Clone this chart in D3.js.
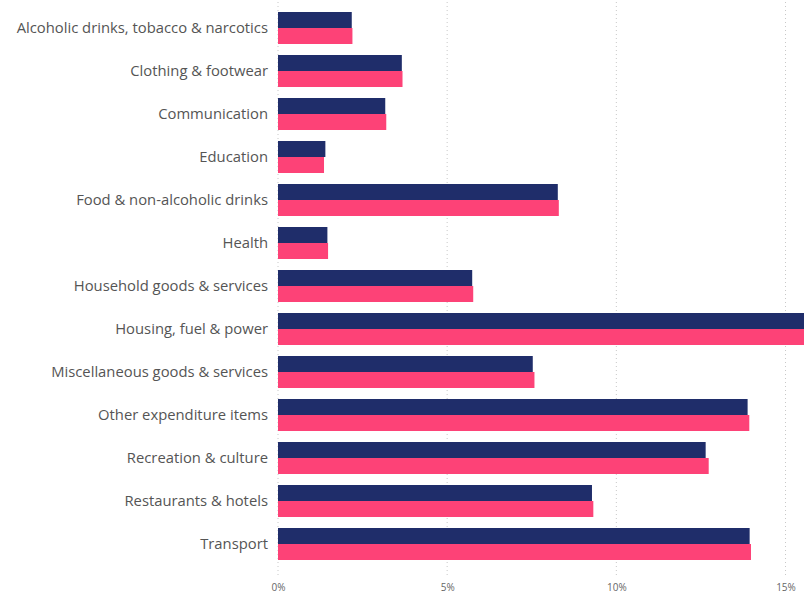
<!DOCTYPE html>
<html>
<head>
<meta charset="utf-8">
<script src="https://cdn.jsdelivr.net/npm/d3@7"></script>
<style>
  html, body { margin: 0; padding: 0; background: #fff; overflow: hidden; }
  svg { display: block; }
</style>
</head>
<body>
<svg id="chart" width="804" height="595"></svg>
<script>
const categories = [
  "Alcoholic drinks, tobacco & narcotics",
  "Clothing & footwear",
  "Communication",
  "Education",
  "Food & non-alcoholic drinks",
  "Health",
  "Household goods & services",
  "Housing, fuel & power",
  "Miscellaneous goods & services",
  "Other expenditure items",
  "Recreation & culture",
  "Restaurants & hotels",
  "Transport"
];
const seriesNames = ["Series 1", "Series 2"];
const series1 = [2.18, 3.66, 3.17, 1.40, 8.27, 1.46, 5.74, 16.5, 7.53, 13.88, 12.64, 9.28, 13.94];
const series2 = [2.20, 3.68, 3.20, 1.36, 8.30, 1.48, 5.77, 16.5, 7.58, 13.93, 12.73, 9.32, 13.98];
const tickValues = [0, 5, 10, 15];
const tickLabels = ["0%", "5%", "10%", "15%"];

const colors = ["#1f2d6a", "#fd4277"];

const svg = d3.select("#chart");
const x = d3.scaleLinear().domain([0, 15]).range([278, 785.5]);
const y = d3.scaleBand().domain(categories).range([6.5, 565.5]).paddingInner(0.256).paddingOuter(0.128);
const ySub = d3.scaleBand().domain(seriesNames).range([0, y.bandwidth()]);

// gridlines
const grid = svg.append("g");
grid.selectAll("line").data(tickValues).join("line")
  .attr("x1", d => x(d)).attr("x2", d => x(d))
  .attr("y1", 2).attr("y2", 576)
  .attr("stroke", "#c8c8c8").attr("stroke-width", 1)
  .attr("stroke-dasharray", "1,3");

// bars
const rows = categories.map((c, i) => ({ c, vals: [series1[i], series2[i]] }));
const g = svg.append("g");
const rowG = g.selectAll("g").data(rows).join("g")
  .attr("transform", d => `translate(0,${y(d.c)})`);
rowG.selectAll("rect").data(d => d.vals.map((v, j) => ({ v, s: seriesNames[j], j })))
  .join("rect")
  .attr("x", x(0))
  .attr("y", d => ySub(d.s))
  .attr("width", d => x(d.v) - x(0))
  .attr("height", ySub.bandwidth())
  .attr("fill", d => colors[d.j]);

// category labels
const yAxis = d3.axisLeft(y).tickSize(0).tickPadding(0);
const ya = svg.append("g").attr("transform", "translate(268,0)").call(yAxis);
ya.select(".domain").remove();
ya.selectAll("text")
  .attr("font-family", "'Open Sans', sans-serif")
  .attr("font-size", 14.8)
  .attr("fill", "#555");

// x axis labels
const xAxis = d3.axisBottom(x).tickValues(tickValues).tickFormat((d, i) => tickLabels[i]).tickSize(0).tickPadding(0);
const xa = svg.append("g").attr("transform", "translate(0,584)").call(xAxis);
xa.select(".domain").remove();
xa.selectAll("text")
  .attr("font-family", "'Open Sans', sans-serif")
  .attr("font-size", 10)
  .attr("fill", "#666");
</script>
</body>
</html>
